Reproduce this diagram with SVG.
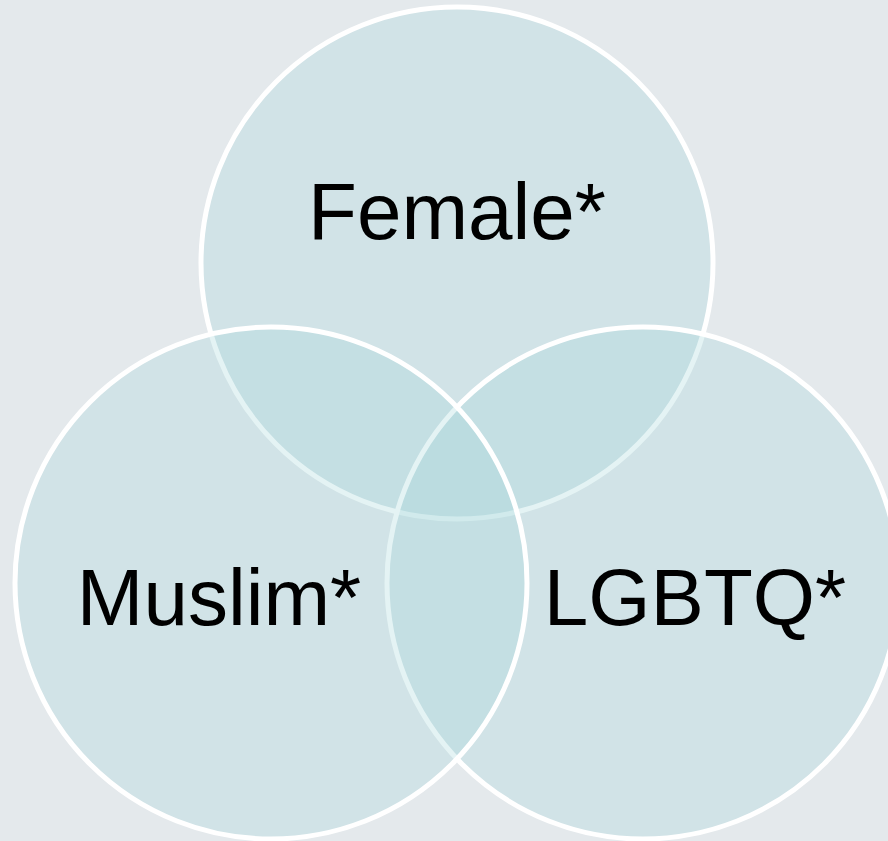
<svg xmlns="http://www.w3.org/2000/svg" width="888" height="841" viewBox="0 0 888 841">
  <style>
    .c { fill: rgb(165,215,220); fill-opacity: 0.3; stroke: #ffffff; stroke-width: 5; }
    .t { font-family: "Liberation Sans", Arial, sans-serif; font-size: 80px; fill: #000000; text-anchor: middle; }
  </style>
  <rect x="0" y="0" width="888" height="841" fill="#E4E9EC"/>
  <g id="female">
    <circle class="c" cx="457" cy="263" r="256"/>
  </g>
  <g id="lgbtq">
    <circle class="c" cx="643" cy="583" r="256"/>
  </g>
  <g id="muslim">
    <circle class="c" cx="271" cy="583" r="256"/>
  </g>
  <g id="labels">
    <text class="t" x="457" y="239">Female*</text>
    <text class="t" x="219" y="625">Muslim*</text>
    <text class="t" x="695" y="625">LGBTQ*</text>
  </g>
  <g id="connectors"/>
</svg>
